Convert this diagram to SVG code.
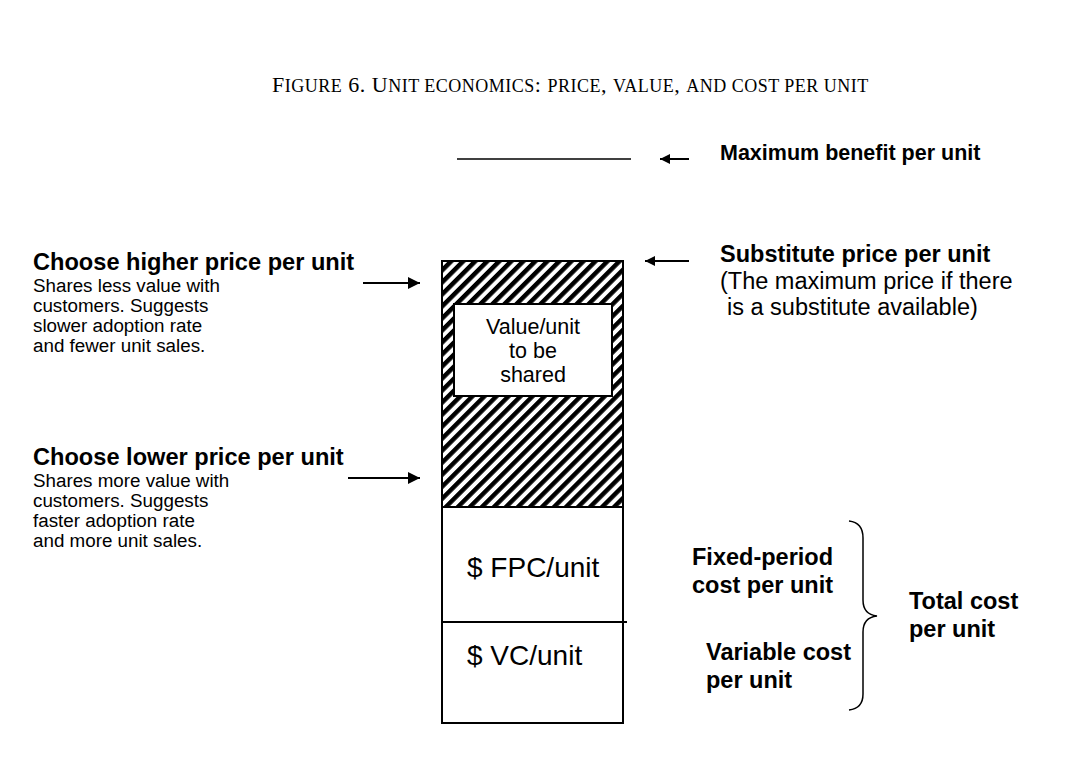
<svg xmlns="http://www.w3.org/2000/svg" width="1078" height="760" viewBox="0 0 1078 760">
<style>
.b{font-family:"Liberation Sans",Arial,sans-serif;font-weight:bold;fill:#000}
.r{font-family:"Liberation Sans",Arial,sans-serif;fill:#000}
.t{font-family:"Liberation Serif","Times New Roman",serif;fill:#000;font-size:22px;letter-spacing:0.5px}
.sc{font-size:18px}
.ln{stroke:#000;stroke-width:2;fill:none}
.box{stroke:#000;stroke-width:2}
</style>
<defs>
<pattern id="hatch" patternUnits="userSpaceOnUse" width="8.5" height="8.5" patternTransform="rotate(45)">
<rect width="8.5" height="8.5" fill="#fff"/>
<rect width="4.5" height="8.5" fill="#000"/>
</pattern>
<marker id="ah" markerUnits="userSpaceOnUse" markerWidth="14" markerHeight="12" refX="12" refY="6" orient="auto">
<path d="M0,0 L12,6 L0,12 Z" fill="#000"/>
</marker>
<marker id="ahs" markerUnits="userSpaceOnUse" markerWidth="12" markerHeight="10" refX="10" refY="5" orient="auto">
<path d="M0,0 L10,5 L0,10 Z" fill="#000"/>
</marker>
</defs>
<rect width="1078" height="760" fill="#fff"/>

<text class="t" x="272" y="92">F<tspan class="sc">IGURE</tspan> 6. U<tspan class="sc">NIT ECONOMICS</tspan>: <tspan class="sc">PRICE</tspan>, <tspan class="sc">VALUE</tspan>, <tspan class="sc">AND COST PER UNIT</tspan></text>

<g id="max-benefit">
<line x1="457" y1="159" x2="631" y2="159" stroke="#000" stroke-width="1.5"/>
<text class="b" x="720" y="160" font-size="21.5">Maximum benefit per unit</text>
</g>

<g id="substitute">
<text class="b" x="720" y="262" font-size="23.5">Substitute price per unit</text>
<text class="r" x="720" y="289" font-size="23.5">(The maximum price if there</text>
<text class="r" x="727" y="315" font-size="23.5">is a substitute available)</text>
</g>

<g id="higher">
<text class="b" x="33" y="270" font-size="23.6">Choose higher price per unit</text>
<text class="r" x="33" y="292" font-size="18.8">Shares less value with</text>
<text class="r" x="33" y="312" font-size="18.8">customers. Suggests</text>
<text class="r" x="33" y="332" font-size="18.8">slower adoption rate</text>
<text class="r" x="33" y="352" font-size="18.8">and fewer unit sales.</text>
</g>

<g id="lower">
<text class="b" x="33" y="465" font-size="23.6">Choose lower price per unit</text>
<text class="r" x="33" y="487" font-size="18.8">Shares more value with</text>
<text class="r" x="33" y="507" font-size="18.8">customers. Suggests</text>
<text class="r" x="33" y="527" font-size="18.8">faster adoption rate</text>
<text class="r" x="33" y="547" font-size="18.8">and more unit sales.</text>
</g>

<g id="bar">
<rect class="box" x="442" y="261" width="181" height="246" fill="url(#hatch)"/>
<rect class="box" x="442" y="507" width="181" height="216" fill="#fff"/>
<line x1="442" y1="622" x2="627" y2="622" stroke="#000" stroke-width="2"/>
</g>

<g id="value-box">
<rect class="box" x="454" y="304" width="158" height="92" fill="#fff"/>
<text class="r" x="533" y="334" font-size="21.5" text-anchor="middle">Value/unit</text>
<text class="r" x="533" y="358" font-size="21.5" text-anchor="middle">to be</text>
<text class="r" x="533" y="382" font-size="21.5" text-anchor="middle">shared</text>
</g>

<g id="fpc">
<text class="r" x="467" y="577" font-size="28">$ FPC/unit</text>
</g>
<g id="vc">
<text class="r" x="467" y="665" font-size="28">$ VC/unit</text>
</g>

<g id="fixed-label">
<text class="b" x="692" y="565" font-size="23.5">Fixed-period</text>
<text class="b" x="692" y="593" font-size="23.5">cost per unit</text>
</g>
<g id="variable-label">
<text class="b" x="706" y="660" font-size="23.5">Variable cost</text>
<text class="b" x="706" y="688" font-size="23.5">per unit</text>
</g>
<g id="total-label">
<text class="b" x="909" y="609" font-size="23.5">Total cost</text>
<text class="b" x="909" y="637" font-size="23.5">per unit</text>
</g>

<g id="connectors">
<line class="ln" x1="689" y1="159" x2="660" y2="159" marker-end="url(#ahs)"/>
<line class="ln" x1="689" y1="261" x2="645" y2="261" marker-end="url(#ahs)"/>
<line class="ln" x1="363" y1="283" x2="420" y2="283" marker-end="url(#ah)"/>
<line class="ln" x1="348" y1="478" x2="420" y2="478" marker-end="url(#ah)"/>
<path d="M849,521 C858,522 863,528 863,538 L863,600 C863,610 868,615 877,616 C868,617 863,622 863,632 L863,694 C863,704 858,709 849,710" fill="none" stroke="#000" stroke-width="1.5"/>
</g>
</svg>
